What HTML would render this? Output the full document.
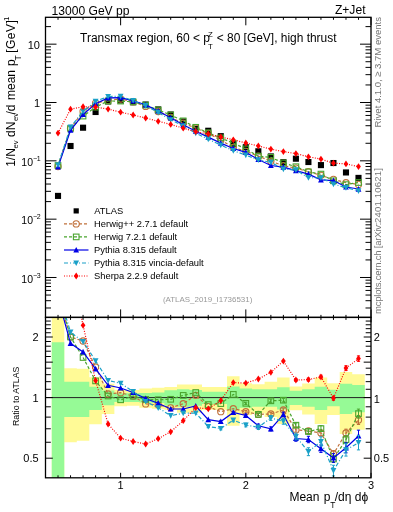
<!DOCTYPE html><html><head><meta charset="utf-8"><style>html,body{margin:0;padding:0;background:#fff;width:393px;height:512px;overflow:hidden}svg{display:block;will-change:transform}text{font-family:"Liberation Sans",sans-serif;fill:#000}</style></head><body>
<svg width="393" height="512" viewBox="0 0 393 512">
<defs>
<clipPath id="c1"><rect x="45.5" y="17.3" width="325.5" height="300.09999999999997"/></clipPath>
<clipPath id="c2"><rect x="45.5" y="317.4" width="325.5" height="160.40000000000003"/></clipPath>
</defs>
<g clip-path="url(#c2)">
<polygon points="51.76,314.07 64.28,314.07 64.28,368.18 76.8,368.18 76.8,368.81 89.32,368.81 89.32,377.19 101.84,377.19 101.84,383.87 114.36,383.87 114.36,389.67 126.88,389.67 126.88,390.07 139.4,390.07 139.4,388.48 151.92,388.48 151.92,387.69 164.44,387.69 164.44,386.92 176.96,386.92 176.96,384.62 189.48,384.62 189.48,384.62 202,384.62 202,386.92 214.52,386.92 214.52,386.92 227.04,386.92 227.04,376.29 239.56,376.29 239.56,383.13 252.08,383.13 252.08,384.25 264.6,384.25 264.6,381.66 277.12,381.66 277.12,377.4 289.64,377.4 289.64,386.53 302.16,386.53 302.16,383.5 314.68,383.5 314.68,377.4 327.2,377.4 327.2,383.13 339.72,383.13 339.72,372.01 352.24,372.01 352.24,374.19 364.76,374.19 364.76,429.66 352.24,429.66 352.24,433.93 339.72,433.93 339.72,414.95 327.2,414.95 327.2,423.92 314.68,423.92 314.68,414.42 302.16,414.42 302.16,410.28 289.64,410.28 289.64,423.92 277.12,423.92 277.12,417.11 264.6,417.11 264.6,413.36 252.08,413.36 252.08,414.95 239.56,414.95 239.56,425.83 227.04,425.83 227.04,409.77 214.52,409.77 214.52,409.77 202,409.77 202,412.84 189.48,412.84 189.48,412.84 176.96,412.84 176.96,409.77 164.44,409.77 164.44,408.78 151.92,408.78 151.92,407.79 139.4,407.79 139.4,405.84 126.88,405.84 126.88,406.33 114.36,406.33 114.36,413.89 101.84,413.89 101.84,424.28 89.32,424.28 89.32,440.81 76.8,440.81 76.8,442.26 64.28,442.26 64.28,800.2 51.76,800.2" fill="#fffa96"/>
<polygon points="51.76,342.23 64.28,342.23 64.28,381.81 76.8,381.81 76.8,381.81 89.32,381.81 89.32,386.84 101.84,386.84 101.84,390.55 114.36,390.55 114.36,393.33 126.88,393.33 126.88,393.33 139.4,393.33 139.4,392.92 151.92,392.92 151.92,392.51 164.44,392.51 164.44,390.31 176.96,390.31 176.96,389.27 189.48,389.27 189.48,390.07 202,390.07 202,391.69 214.52,391.69 214.52,391.69 227.04,391.69 227.04,386.53 239.56,386.53 239.56,388.48 252.08,388.48 252.08,389.27 264.6,389.27 264.6,389.27 277.12,389.27 277.12,387.15 289.64,387.15 289.64,390.87 302.16,390.87 302.16,389.27 314.68,389.27 314.68,386.68 327.2,386.68 327.2,389.75 339.72,389.75 339.72,383.87 352.24,383.87 352.24,385 364.76,385 364.76,412.32 352.24,412.32 352.24,413.89 339.72,413.89 339.72,406.23 327.2,406.23 327.2,410.08 314.68,410.08 314.68,406.81 302.16,406.81 302.16,404.89 289.64,404.89 289.64,409.47 277.12,409.47 277.12,406.81 264.6,406.81 264.6,406.81 252.08,406.81 252.08,407.79 239.56,407.79 239.56,410.28 227.04,410.28 227.04,403.94 214.52,403.94 214.52,403.94 202,403.94 202,405.84 189.48,405.84 189.48,406.81 176.96,406.81 176.96,405.56 164.44,405.56 164.44,403.01 151.92,403.01 151.92,402.55 139.4,402.55 139.4,402.08 126.88,402.08 126.88,402.08 114.36,402.08 114.36,405.27 101.84,405.27 101.84,409.88 89.32,409.88 89.32,416.89 76.8,416.89 76.8,416.89 64.28,416.89 64.28,585.92 51.76,585.92" fill="#96fa96"/>
<line x1="45.5" y1="397.6" x2="371.0" y2="397.6" stroke="#222" stroke-width="1"/>
</g>
<g clip-path="url(#c2)">
<polyline points="58.02,296.14 70.54,337 83.06,341 95.58,367 108.1,394 120.62,392.7 133.14,396.1 145.66,403.9 158.18,404.8 170.7,407.8 183.22,403.7 195.74,395.3 208.26,406.6 220.78,411.7 233.3,408.7 245.82,411.7 258.34,414.4 270.86,414 283.38,410 295.9,429.9 308.42,431 320.94,433 333.46,454 345.98,433 358.5,420" fill="none" stroke="#c0703a" stroke-width="1.2" stroke-dasharray="3,2"/>
<path d="M245.82 410.54V412.86M244.22 410.54H247.42M244.22 412.86H247.42M258.34 413.05V415.75M256.74 413.05H259.94M256.74 415.75H259.94M270.86 412.43V415.57M269.26 412.43H272.46M269.26 415.57H272.46M283.38 408.17V411.83M281.78 408.17H284.98M281.78 411.83H284.98M295.9 427.78V432.02M294.3 427.78H297.5M294.3 432.02H297.5M308.42 428.53V433.47M306.82 428.53H310.02M306.82 433.47H310.02M320.94 430.13V435.87M319.34 430.13H322.54M319.34 435.87H322.54M333.46 450.67V457.33M331.86 450.67H335.06M331.86 457.33H335.06M345.98 429.13V436.87M344.38 429.13H347.58M344.38 436.87H347.58M358.5 415.5V424.5M356.9 415.5H360.1M356.9 424.5H360.1" stroke="#c0703a" stroke-width="1" fill="none"/>
<circle cx="58.02" cy="296.14" r="3.1" fill="none" stroke="#c0703a" stroke-width="1.1"/>
<circle cx="70.54" cy="337" r="3.1" fill="none" stroke="#c0703a" stroke-width="1.1"/>
<circle cx="83.06" cy="341" r="3.1" fill="none" stroke="#c0703a" stroke-width="1.1"/>
<circle cx="95.58" cy="367" r="3.1" fill="none" stroke="#c0703a" stroke-width="1.1"/>
<circle cx="108.1" cy="394" r="3.1" fill="none" stroke="#c0703a" stroke-width="1.1"/>
<circle cx="120.62" cy="392.7" r="3.1" fill="none" stroke="#c0703a" stroke-width="1.1"/>
<circle cx="133.14" cy="396.1" r="3.1" fill="none" stroke="#c0703a" stroke-width="1.1"/>
<circle cx="145.66" cy="403.9" r="3.1" fill="none" stroke="#c0703a" stroke-width="1.1"/>
<circle cx="158.18" cy="404.8" r="3.1" fill="none" stroke="#c0703a" stroke-width="1.1"/>
<circle cx="170.7" cy="407.8" r="3.1" fill="none" stroke="#c0703a" stroke-width="1.1"/>
<circle cx="183.22" cy="403.7" r="3.1" fill="none" stroke="#c0703a" stroke-width="1.1"/>
<circle cx="195.74" cy="395.3" r="3.1" fill="none" stroke="#c0703a" stroke-width="1.1"/>
<circle cx="208.26" cy="406.6" r="3.1" fill="none" stroke="#c0703a" stroke-width="1.1"/>
<circle cx="220.78" cy="411.7" r="3.1" fill="none" stroke="#c0703a" stroke-width="1.1"/>
<circle cx="233.3" cy="408.7" r="3.1" fill="none" stroke="#c0703a" stroke-width="1.1"/>
<circle cx="245.82" cy="411.7" r="3.1" fill="none" stroke="#c0703a" stroke-width="1.1"/>
<circle cx="258.34" cy="414.4" r="3.1" fill="none" stroke="#c0703a" stroke-width="1.1"/>
<circle cx="270.86" cy="414" r="3.1" fill="none" stroke="#c0703a" stroke-width="1.1"/>
<circle cx="283.38" cy="410" r="3.1" fill="none" stroke="#c0703a" stroke-width="1.1"/>
<circle cx="295.9" cy="429.9" r="3.1" fill="none" stroke="#c0703a" stroke-width="1.1"/>
<circle cx="308.42" cy="431" r="3.1" fill="none" stroke="#c0703a" stroke-width="1.1"/>
<circle cx="320.94" cy="433" r="3.1" fill="none" stroke="#c0703a" stroke-width="1.1"/>
<circle cx="333.46" cy="454" r="3.1" fill="none" stroke="#c0703a" stroke-width="1.1"/>
<circle cx="345.98" cy="433" r="3.1" fill="none" stroke="#c0703a" stroke-width="1.1"/>
<circle cx="358.5" cy="420" r="3.1" fill="none" stroke="#c0703a" stroke-width="1.1"/>
</g>
<g clip-path="url(#c2)">
<polyline points="58.02,292.69 70.54,337 83.06,357.5 95.58,380.9 108.1,396 120.62,399.8 133.14,396.2 145.66,399.4 158.18,399.7 170.7,399.3 183.22,395.4 195.74,392.5 208.26,404.6 220.78,403.6 233.3,394.4 245.82,403.3 258.34,414.4 270.86,400.8 283.38,400.2 295.9,425.2 308.42,431.5 320.94,428.6 333.46,459 345.98,439.6 358.5,413.6" fill="none" stroke="#4aa52e" stroke-width="1.2" stroke-dasharray="3,2"/>
<path d="M245.82 402.14V404.46M244.22 402.14H247.42M244.22 404.46H247.42M258.34 413.05V415.75M256.74 413.05H259.94M256.74 415.75H259.94M270.86 399.23V402.37M269.26 399.23H272.46M269.26 402.37H272.46M283.38 398.37V402.03M281.78 398.37H284.98M281.78 402.03H284.98M295.9 423.08V427.32M294.3 423.08H297.5M294.3 427.32H297.5M308.42 429.03V433.97M306.82 429.03H310.02M306.82 433.97H310.02M320.94 425.73V431.47M319.34 425.73H322.54M319.34 431.47H322.54M333.46 455.67V462.33M331.86 455.67H335.06M331.86 462.33H335.06M345.98 435.73V443.47M344.38 435.73H347.58M344.38 443.47H347.58M358.5 409.1V418.1M356.9 409.1H360.1M356.9 418.1H360.1" stroke="#4aa52e" stroke-width="1" fill="none"/>
<rect x="55.22" y="289.89" width="5.6" height="5.6" fill="none" stroke="#4aa52e" stroke-width="1.1"/>
<rect x="67.74" y="334.2" width="5.6" height="5.6" fill="none" stroke="#4aa52e" stroke-width="1.1"/>
<rect x="80.26" y="354.7" width="5.6" height="5.6" fill="none" stroke="#4aa52e" stroke-width="1.1"/>
<rect x="92.78" y="378.1" width="5.6" height="5.6" fill="none" stroke="#4aa52e" stroke-width="1.1"/>
<rect x="105.3" y="393.2" width="5.6" height="5.6" fill="none" stroke="#4aa52e" stroke-width="1.1"/>
<rect x="117.82" y="397" width="5.6" height="5.6" fill="none" stroke="#4aa52e" stroke-width="1.1"/>
<rect x="130.34" y="393.4" width="5.6" height="5.6" fill="none" stroke="#4aa52e" stroke-width="1.1"/>
<rect x="142.86" y="396.6" width="5.6" height="5.6" fill="none" stroke="#4aa52e" stroke-width="1.1"/>
<rect x="155.38" y="396.9" width="5.6" height="5.6" fill="none" stroke="#4aa52e" stroke-width="1.1"/>
<rect x="167.9" y="396.5" width="5.6" height="5.6" fill="none" stroke="#4aa52e" stroke-width="1.1"/>
<rect x="180.42" y="392.6" width="5.6" height="5.6" fill="none" stroke="#4aa52e" stroke-width="1.1"/>
<rect x="192.94" y="389.7" width="5.6" height="5.6" fill="none" stroke="#4aa52e" stroke-width="1.1"/>
<rect x="205.46" y="401.8" width="5.6" height="5.6" fill="none" stroke="#4aa52e" stroke-width="1.1"/>
<rect x="217.98" y="400.8" width="5.6" height="5.6" fill="none" stroke="#4aa52e" stroke-width="1.1"/>
<rect x="230.5" y="391.6" width="5.6" height="5.6" fill="none" stroke="#4aa52e" stroke-width="1.1"/>
<rect x="243.02" y="400.5" width="5.6" height="5.6" fill="none" stroke="#4aa52e" stroke-width="1.1"/>
<rect x="255.54" y="411.6" width="5.6" height="5.6" fill="none" stroke="#4aa52e" stroke-width="1.1"/>
<rect x="268.06" y="398" width="5.6" height="5.6" fill="none" stroke="#4aa52e" stroke-width="1.1"/>
<rect x="280.58" y="397.4" width="5.6" height="5.6" fill="none" stroke="#4aa52e" stroke-width="1.1"/>
<rect x="293.1" y="422.4" width="5.6" height="5.6" fill="none" stroke="#4aa52e" stroke-width="1.1"/>
<rect x="305.62" y="428.7" width="5.6" height="5.6" fill="none" stroke="#4aa52e" stroke-width="1.1"/>
<rect x="318.14" y="425.8" width="5.6" height="5.6" fill="none" stroke="#4aa52e" stroke-width="1.1"/>
<rect x="330.66" y="456.2" width="5.6" height="5.6" fill="none" stroke="#4aa52e" stroke-width="1.1"/>
<rect x="343.18" y="436.8" width="5.6" height="5.6" fill="none" stroke="#4aa52e" stroke-width="1.1"/>
<rect x="355.7" y="410.8" width="5.6" height="5.6" fill="none" stroke="#4aa52e" stroke-width="1.1"/>
</g>
<g clip-path="url(#c2)">
<polyline points="58.02,297.86 70.54,343.3 83.06,351.9 95.58,368.9 108.1,385.3 120.62,388 133.14,392.5 145.66,398.6 158.18,403.2 170.7,409 183.22,409 195.74,406 208.26,419.6 220.78,421.5 233.3,412.5 245.82,415.5 258.34,425.8 270.86,428.9 283.38,414.5 295.9,438.5 308.42,439.5 320.94,448.7 333.46,458 345.98,447.8 358.5,436" fill="none" stroke="#0000e6" stroke-width="1.2"/>
<path d="M220.78 420.38V422.62M219.18 420.38H222.38M219.18 422.62H222.38M233.3 411.2V413.8M231.7 411.2H234.9M231.7 413.8H234.9M245.82 413.99V417.01M244.22 413.99H247.42M244.22 417.01H247.42M258.34 424.04V427.56M256.74 424.04H259.94M256.74 427.56H259.94M270.86 426.86V430.94M269.26 426.86H272.46M269.26 430.94H272.46M283.38 412.13V416.87M281.78 412.13H284.98M281.78 416.87H284.98M295.9 435.74V441.26M294.3 435.74H297.5M294.3 441.26H297.5M308.42 436.29V442.71M306.82 436.29H310.02M306.82 442.71H310.02M320.94 444.97V452.43M319.34 444.97H322.54M319.34 452.43H322.54M333.46 453.67V462.33M331.86 453.67H335.06M331.86 462.33H335.06M345.98 442.77V452.83M344.38 442.77H347.58M344.38 452.83H347.58M358.5 430.15V441.85M356.9 430.15H360.1M356.9 441.85H360.1" stroke="#0000e6" stroke-width="1" fill="none"/>
<polygon points="58.02,294.76 60.92,300.46 55.12,300.46" fill="#0000e6"/>
<polygon points="70.54,340.2 73.44,345.9 67.64,345.9" fill="#0000e6"/>
<polygon points="83.06,348.8 85.96,354.5 80.16,354.5" fill="#0000e6"/>
<polygon points="95.58,365.8 98.48,371.5 92.68,371.5" fill="#0000e6"/>
<polygon points="108.1,382.2 111,387.9 105.2,387.9" fill="#0000e6"/>
<polygon points="120.62,384.9 123.52,390.6 117.72,390.6" fill="#0000e6"/>
<polygon points="133.14,389.4 136.04,395.1 130.24,395.1" fill="#0000e6"/>
<polygon points="145.66,395.5 148.56,401.2 142.76,401.2" fill="#0000e6"/>
<polygon points="158.18,400.1 161.08,405.8 155.28,405.8" fill="#0000e6"/>
<polygon points="170.7,405.9 173.6,411.6 167.8,411.6" fill="#0000e6"/>
<polygon points="183.22,405.9 186.12,411.6 180.32,411.6" fill="#0000e6"/>
<polygon points="195.74,402.9 198.64,408.6 192.84,408.6" fill="#0000e6"/>
<polygon points="208.26,416.5 211.16,422.2 205.36,422.2" fill="#0000e6"/>
<polygon points="220.78,418.4 223.68,424.1 217.88,424.1" fill="#0000e6"/>
<polygon points="233.3,409.4 236.2,415.1 230.4,415.1" fill="#0000e6"/>
<polygon points="245.82,412.4 248.72,418.1 242.92,418.1" fill="#0000e6"/>
<polygon points="258.34,422.7 261.24,428.4 255.44,428.4" fill="#0000e6"/>
<polygon points="270.86,425.8 273.76,431.5 267.96,431.5" fill="#0000e6"/>
<polygon points="283.38,411.4 286.28,417.1 280.48,417.1" fill="#0000e6"/>
<polygon points="295.9,435.4 298.8,441.1 293,441.1" fill="#0000e6"/>
<polygon points="308.42,436.4 311.32,442.1 305.52,442.1" fill="#0000e6"/>
<polygon points="320.94,445.6 323.84,451.3 318.04,451.3" fill="#0000e6"/>
<polygon points="333.46,454.9 336.36,460.6 330.56,460.6" fill="#0000e6"/>
<polygon points="345.98,444.7 348.88,450.4 343.08,450.4" fill="#0000e6"/>
<polygon points="358.5,432.9 361.4,438.6 355.6,438.6" fill="#0000e6"/>
</g>
<g clip-path="url(#c2)">
<polyline points="58.02,290.96 70.54,332.2 83.06,341.6 95.58,360.8 108.1,380.5 120.62,383.3 133.14,391.5 145.66,401.5 158.18,407.8 170.7,415.7 183.22,413.2 195.74,413.1 208.26,426.5 220.78,428.5 233.3,420.2 245.82,425 258.34,427.3 270.86,418 283.38,421.3 295.9,436.5 308.42,451.7 320.94,441.5 333.46,470.6 345.98,449.9 358.5,442.7" fill="none" stroke="#1aa0c8" stroke-width="1.2" stroke-dasharray="4,2,1,2"/>
<path d="M208.26 425.32V427.68M206.66 425.32H209.86M206.66 427.68H209.86M220.78 427.12V429.88M219.18 427.12H222.38M219.18 429.88H222.38M233.3 418.6V421.8M231.7 418.6H234.9M231.7 421.8H234.9M245.82 423.14V426.86M244.22 423.14H247.42M244.22 426.86H247.42M258.34 425.14V429.46M256.74 425.14H259.94M256.74 429.46H259.94M270.86 415.49V420.51M269.26 415.49H272.46M269.26 420.51H272.46M283.38 418.38V424.22M281.78 418.38H284.98M281.78 424.22H284.98M295.9 433.11V439.89M294.3 433.11H297.5M294.3 439.89H297.5M308.42 447.75V455.65M306.82 447.75H310.02M306.82 455.65H310.02M320.94 436.91V446.09M319.34 436.91H322.54M319.34 446.09H322.54M333.46 465.27V475.93M331.86 465.27H335.06M331.86 475.93H335.06M345.98 443.71V456.09M344.38 443.71H347.58M344.38 456.09H347.58M358.5 435.5V449.9M356.9 435.5H360.1M356.9 449.9H360.1" stroke="#1aa0c8" stroke-width="1" fill="none"/>
<polygon points="58.02,294.06 60.92,288.36 55.12,288.36" fill="#1aa0c8"/>
<polygon points="70.54,335.3 73.44,329.6 67.64,329.6" fill="#1aa0c8"/>
<polygon points="83.06,344.7 85.96,339 80.16,339" fill="#1aa0c8"/>
<polygon points="95.58,363.9 98.48,358.2 92.68,358.2" fill="#1aa0c8"/>
<polygon points="108.1,383.6 111,377.9 105.2,377.9" fill="#1aa0c8"/>
<polygon points="120.62,386.4 123.52,380.7 117.72,380.7" fill="#1aa0c8"/>
<polygon points="133.14,394.6 136.04,388.9 130.24,388.9" fill="#1aa0c8"/>
<polygon points="145.66,404.6 148.56,398.9 142.76,398.9" fill="#1aa0c8"/>
<polygon points="158.18,410.9 161.08,405.2 155.28,405.2" fill="#1aa0c8"/>
<polygon points="170.7,418.8 173.6,413.1 167.8,413.1" fill="#1aa0c8"/>
<polygon points="183.22,416.3 186.12,410.6 180.32,410.6" fill="#1aa0c8"/>
<polygon points="195.74,416.2 198.64,410.5 192.84,410.5" fill="#1aa0c8"/>
<polygon points="208.26,429.6 211.16,423.9 205.36,423.9" fill="#1aa0c8"/>
<polygon points="220.78,431.6 223.68,425.9 217.88,425.9" fill="#1aa0c8"/>
<polygon points="233.3,423.3 236.2,417.6 230.4,417.6" fill="#1aa0c8"/>
<polygon points="245.82,428.1 248.72,422.4 242.92,422.4" fill="#1aa0c8"/>
<polygon points="258.34,430.4 261.24,424.7 255.44,424.7" fill="#1aa0c8"/>
<polygon points="270.86,421.1 273.76,415.4 267.96,415.4" fill="#1aa0c8"/>
<polygon points="283.38,424.4 286.28,418.7 280.48,418.7" fill="#1aa0c8"/>
<polygon points="295.9,439.6 298.8,433.9 293,433.9" fill="#1aa0c8"/>
<polygon points="308.42,454.8 311.32,449.1 305.52,449.1" fill="#1aa0c8"/>
<polygon points="320.94,444.6 323.84,438.9 318.04,438.9" fill="#1aa0c8"/>
<polygon points="333.46,473.7 336.36,468 330.56,468" fill="#1aa0c8"/>
<polygon points="345.98,453 348.88,447.3 343.08,447.3" fill="#1aa0c8"/>
<polygon points="358.5,445.8 361.4,440.1 355.6,440.1" fill="#1aa0c8"/>
</g>
<g clip-path="url(#c2)">
<polyline points="58.02,180.87 70.54,270.6 83.06,325.3 95.58,380.5 108.1,424 120.62,438.2 133.14,441.5 145.66,444 158.18,438.7 170.7,431.8 183.22,420.7 195.74,407.7 208.26,408.8 220.78,400.5 233.3,382.6 245.82,383.1 258.34,379 270.86,372.3 283.38,361.1 295.9,380 308.42,379.6 320.94,376.9 333.46,398.2 345.98,368.1 358.5,358.6" fill="none" stroke="#ff0000" stroke-width="1.2" stroke-dasharray="1,1.5"/>
<path d="M295.9 378.73V381.27M294.3 378.73H297.5M294.3 381.27H297.5M308.42 378.12V381.08M306.82 378.12H310.02M306.82 381.08H310.02M320.94 375.18V378.62M319.34 375.18H322.54M319.34 378.62H322.54M333.46 396.2V400.2M331.86 396.2H335.06M331.86 400.2H335.06M345.98 365.78V370.42M344.38 365.78H347.58M344.38 370.42H347.58M358.5 355.9V361.3M356.9 355.9H360.1M356.9 361.3H360.1" stroke="#ff0000" stroke-width="1" fill="none"/>
<polygon points="58.02,177.47 60.37,180.87 58.02,184.27 55.67,180.87" fill="#ff0000"/>
<polygon points="70.54,267.2 72.89,270.6 70.54,274 68.19,270.6" fill="#ff0000"/>
<polygon points="83.06,321.9 85.41,325.3 83.06,328.7 80.71,325.3" fill="#ff0000"/>
<polygon points="95.58,377.1 97.93,380.5 95.58,383.9 93.23,380.5" fill="#ff0000"/>
<polygon points="108.1,420.6 110.45,424 108.1,427.4 105.75,424" fill="#ff0000"/>
<polygon points="120.62,434.8 122.97,438.2 120.62,441.6 118.27,438.2" fill="#ff0000"/>
<polygon points="133.14,438.1 135.49,441.5 133.14,444.9 130.79,441.5" fill="#ff0000"/>
<polygon points="145.66,440.6 148.01,444 145.66,447.4 143.31,444" fill="#ff0000"/>
<polygon points="158.18,435.3 160.53,438.7 158.18,442.1 155.83,438.7" fill="#ff0000"/>
<polygon points="170.7,428.4 173.05,431.8 170.7,435.2 168.35,431.8" fill="#ff0000"/>
<polygon points="183.22,417.3 185.57,420.7 183.22,424.1 180.87,420.7" fill="#ff0000"/>
<polygon points="195.74,404.3 198.09,407.7 195.74,411.1 193.39,407.7" fill="#ff0000"/>
<polygon points="208.26,405.4 210.61,408.8 208.26,412.2 205.91,408.8" fill="#ff0000"/>
<polygon points="220.78,397.1 223.13,400.5 220.78,403.9 218.43,400.5" fill="#ff0000"/>
<polygon points="233.3,379.2 235.65,382.6 233.3,386 230.95,382.6" fill="#ff0000"/>
<polygon points="245.82,379.7 248.17,383.1 245.82,386.5 243.47,383.1" fill="#ff0000"/>
<polygon points="258.34,375.6 260.69,379 258.34,382.4 255.99,379" fill="#ff0000"/>
<polygon points="270.86,368.9 273.21,372.3 270.86,375.7 268.51,372.3" fill="#ff0000"/>
<polygon points="283.38,357.7 285.73,361.1 283.38,364.5 281.03,361.1" fill="#ff0000"/>
<polygon points="295.9,376.6 298.25,380 295.9,383.4 293.55,380" fill="#ff0000"/>
<polygon points="308.42,376.2 310.77,379.6 308.42,383 306.07,379.6" fill="#ff0000"/>
<polygon points="320.94,373.5 323.29,376.9 320.94,380.3 318.59,376.9" fill="#ff0000"/>
<polygon points="333.46,394.8 335.81,398.2 333.46,401.6 331.11,398.2" fill="#ff0000"/>
<polygon points="345.98,364.7 348.33,368.1 345.98,371.5 343.63,368.1" fill="#ff0000"/>
<polygon points="358.5,355.2 360.85,358.6 358.5,362 356.15,358.6" fill="#ff0000"/>
</g>
<g clip-path="url(#c1)">
<rect x="54.97" y="192.85" width="6.1" height="6.1" fill="#000"/>
<rect x="67.49" y="142.95" width="6.1" height="6.1" fill="#000"/>
<rect x="80.01" y="124.65" width="6.1" height="6.1" fill="#000"/>
<rect x="92.53" y="108.95" width="6.1" height="6.1" fill="#000"/>
<rect x="105.05" y="98.4" width="6.1" height="6.1" fill="#000"/>
<rect x="117.57" y="97.39" width="6.1" height="6.1" fill="#000"/>
<rect x="130.09" y="99.23" width="6.1" height="6.1" fill="#000"/>
<rect x="142.61" y="101.5" width="6.1" height="6.1" fill="#000"/>
<rect x="155.13" y="106.34" width="6.1" height="6.1" fill="#000"/>
<rect x="167.65" y="111.44" width="6.1" height="6.1" fill="#000"/>
<rect x="180.17" y="118.46" width="6.1" height="6.1" fill="#000"/>
<rect x="192.69" y="125.72" width="6.1" height="6.1" fill="#000"/>
<rect x="205.21" y="127.7" width="6.1" height="6.1" fill="#000"/>
<rect x="217.73" y="133.11" width="6.1" height="6.1" fill="#000"/>
<rect x="230.25" y="141.1" width="6.1" height="6.1" fill="#000"/>
<rect x="242.77" y="144.15" width="6.1" height="6.1" fill="#000"/>
<rect x="255.29" y="148.24" width="6.1" height="6.1" fill="#000"/>
<rect x="267.81" y="153.38" width="6.1" height="6.1" fill="#000"/>
<rect x="280.33" y="159.13" width="6.1" height="6.1" fill="#000"/>
<rect x="292.85" y="155.65" width="6.1" height="6.1" fill="#000"/>
<rect x="305.37" y="158.97" width="6.1" height="6.1" fill="#000"/>
<rect x="317.89" y="162.05" width="6.1" height="6.1" fill="#000"/>
<rect x="330.41" y="159.98" width="6.1" height="6.1" fill="#000"/>
<rect x="342.93" y="169.4" width="6.1" height="6.1" fill="#000"/>
<rect x="355.45" y="174.85" width="6.1" height="6.1" fill="#000"/>
</g>
<g clip-path="url(#c1)">
<polyline points="58.02,166.5 70.54,128.44 83.06,111.3 95.58,103.13 108.1,100.41 120.62,99.02 133.14,101.84 145.66,106.38 158.18,111.48 170.7,117.45 183.22,123.27 195.74,128.11 208.26,133.36 220.78,140.25 233.3,147.36 245.82,151.29 258.34,156.16 270.86,161.18 283.38,165.77 295.9,168.06 308.42,171.69 320.94,175.36 333.46,179.37 345.98,182.71 358.5,184.39" fill="none" stroke="#c0703a" stroke-width="1.2" stroke-dasharray="3,2"/>
<circle cx="58.02" cy="166.5" r="3.1" fill="none" stroke="#c0703a" stroke-width="1.1"/>
<circle cx="70.54" cy="128.44" r="3.1" fill="none" stroke="#c0703a" stroke-width="1.1"/>
<circle cx="83.06" cy="111.3" r="3.1" fill="none" stroke="#c0703a" stroke-width="1.1"/>
<circle cx="95.58" cy="103.13" r="3.1" fill="none" stroke="#c0703a" stroke-width="1.1"/>
<circle cx="108.1" cy="100.41" r="3.1" fill="none" stroke="#c0703a" stroke-width="1.1"/>
<circle cx="120.62" cy="99.02" r="3.1" fill="none" stroke="#c0703a" stroke-width="1.1"/>
<circle cx="133.14" cy="101.84" r="3.1" fill="none" stroke="#c0703a" stroke-width="1.1"/>
<circle cx="145.66" cy="106.38" r="3.1" fill="none" stroke="#c0703a" stroke-width="1.1"/>
<circle cx="158.18" cy="111.48" r="3.1" fill="none" stroke="#c0703a" stroke-width="1.1"/>
<circle cx="170.7" cy="117.45" r="3.1" fill="none" stroke="#c0703a" stroke-width="1.1"/>
<circle cx="183.22" cy="123.27" r="3.1" fill="none" stroke="#c0703a" stroke-width="1.1"/>
<circle cx="195.74" cy="128.11" r="3.1" fill="none" stroke="#c0703a" stroke-width="1.1"/>
<circle cx="208.26" cy="133.36" r="3.1" fill="none" stroke="#c0703a" stroke-width="1.1"/>
<circle cx="220.78" cy="140.25" r="3.1" fill="none" stroke="#c0703a" stroke-width="1.1"/>
<circle cx="233.3" cy="147.36" r="3.1" fill="none" stroke="#c0703a" stroke-width="1.1"/>
<circle cx="245.82" cy="151.29" r="3.1" fill="none" stroke="#c0703a" stroke-width="1.1"/>
<circle cx="258.34" cy="156.16" r="3.1" fill="none" stroke="#c0703a" stroke-width="1.1"/>
<circle cx="270.86" cy="161.18" r="3.1" fill="none" stroke="#c0703a" stroke-width="1.1"/>
<circle cx="283.38" cy="165.77" r="3.1" fill="none" stroke="#c0703a" stroke-width="1.1"/>
<circle cx="295.9" cy="168.06" r="3.1" fill="none" stroke="#c0703a" stroke-width="1.1"/>
<circle cx="308.42" cy="171.69" r="3.1" fill="none" stroke="#c0703a" stroke-width="1.1"/>
<circle cx="320.94" cy="175.36" r="3.1" fill="none" stroke="#c0703a" stroke-width="1.1"/>
<circle cx="333.46" cy="179.37" r="3.1" fill="none" stroke="#c0703a" stroke-width="1.1"/>
<circle cx="345.98" cy="182.71" r="3.1" fill="none" stroke="#c0703a" stroke-width="1.1"/>
<circle cx="358.5" cy="184.39" r="3.1" fill="none" stroke="#c0703a" stroke-width="1.1"/>
</g>
<g clip-path="url(#c1)">
<polyline points="58.02,165.5 70.54,128.44 83.06,116.08 95.58,107.16 108.1,100.99 120.62,101.07 133.14,101.87 145.66,105.08 158.18,110 170.7,114.98 183.22,120.87 195.74,127.3 208.26,132.78 220.78,137.9 233.3,143.22 245.82,148.85 258.34,156.16 270.86,157.36 283.38,162.93 295.9,166.7 308.42,171.84 320.94,174.08 333.46,180.82 345.98,184.62 358.5,182.54" fill="none" stroke="#4aa52e" stroke-width="1.2" stroke-dasharray="3,2"/>
<rect x="55.22" y="162.7" width="5.6" height="5.6" fill="none" stroke="#4aa52e" stroke-width="1.1"/>
<rect x="67.74" y="125.64" width="5.6" height="5.6" fill="none" stroke="#4aa52e" stroke-width="1.1"/>
<rect x="80.26" y="113.28" width="5.6" height="5.6" fill="none" stroke="#4aa52e" stroke-width="1.1"/>
<rect x="92.78" y="104.36" width="5.6" height="5.6" fill="none" stroke="#4aa52e" stroke-width="1.1"/>
<rect x="105.3" y="98.19" width="5.6" height="5.6" fill="none" stroke="#4aa52e" stroke-width="1.1"/>
<rect x="117.82" y="98.27" width="5.6" height="5.6" fill="none" stroke="#4aa52e" stroke-width="1.1"/>
<rect x="130.34" y="99.07" width="5.6" height="5.6" fill="none" stroke="#4aa52e" stroke-width="1.1"/>
<rect x="142.86" y="102.28" width="5.6" height="5.6" fill="none" stroke="#4aa52e" stroke-width="1.1"/>
<rect x="155.38" y="107.2" width="5.6" height="5.6" fill="none" stroke="#4aa52e" stroke-width="1.1"/>
<rect x="167.9" y="112.18" width="5.6" height="5.6" fill="none" stroke="#4aa52e" stroke-width="1.1"/>
<rect x="180.42" y="118.07" width="5.6" height="5.6" fill="none" stroke="#4aa52e" stroke-width="1.1"/>
<rect x="192.94" y="124.5" width="5.6" height="5.6" fill="none" stroke="#4aa52e" stroke-width="1.1"/>
<rect x="205.46" y="129.98" width="5.6" height="5.6" fill="none" stroke="#4aa52e" stroke-width="1.1"/>
<rect x="217.98" y="135.1" width="5.6" height="5.6" fill="none" stroke="#4aa52e" stroke-width="1.1"/>
<rect x="230.5" y="140.42" width="5.6" height="5.6" fill="none" stroke="#4aa52e" stroke-width="1.1"/>
<rect x="243.02" y="146.05" width="5.6" height="5.6" fill="none" stroke="#4aa52e" stroke-width="1.1"/>
<rect x="255.54" y="153.36" width="5.6" height="5.6" fill="none" stroke="#4aa52e" stroke-width="1.1"/>
<rect x="268.06" y="154.56" width="5.6" height="5.6" fill="none" stroke="#4aa52e" stroke-width="1.1"/>
<rect x="280.58" y="160.13" width="5.6" height="5.6" fill="none" stroke="#4aa52e" stroke-width="1.1"/>
<rect x="293.1" y="163.9" width="5.6" height="5.6" fill="none" stroke="#4aa52e" stroke-width="1.1"/>
<rect x="305.62" y="169.04" width="5.6" height="5.6" fill="none" stroke="#4aa52e" stroke-width="1.1"/>
<rect x="318.14" y="171.28" width="5.6" height="5.6" fill="none" stroke="#4aa52e" stroke-width="1.1"/>
<rect x="330.66" y="178.02" width="5.6" height="5.6" fill="none" stroke="#4aa52e" stroke-width="1.1"/>
<rect x="343.18" y="181.82" width="5.6" height="5.6" fill="none" stroke="#4aa52e" stroke-width="1.1"/>
<rect x="355.7" y="179.74" width="5.6" height="5.6" fill="none" stroke="#4aa52e" stroke-width="1.1"/>
</g>
<g clip-path="url(#c1)">
<polyline points="58.02,167 70.54,130.27 83.06,114.46 95.58,103.68 108.1,97.89 120.62,97.65 133.14,100.8 145.66,104.84 158.18,111.01 170.7,117.79 183.22,124.81 195.74,131.21 208.26,137.13 220.78,143.09 233.3,148.46 245.82,152.39 258.34,159.46 270.86,165.5 283.38,167.07 295.9,170.55 308.42,174.16 320.94,179.91 333.46,180.53 345.98,186.99 358.5,189.03" fill="none" stroke="#0000e6" stroke-width="1.2"/>
<polygon points="58.02,163.9 60.92,169.6 55.12,169.6" fill="#0000e6"/>
<polygon points="70.54,127.17 73.44,132.87 67.64,132.87" fill="#0000e6"/>
<polygon points="83.06,111.36 85.96,117.06 80.16,117.06" fill="#0000e6"/>
<polygon points="95.58,100.58 98.48,106.28 92.68,106.28" fill="#0000e6"/>
<polygon points="108.1,94.79 111,100.49 105.2,100.49" fill="#0000e6"/>
<polygon points="120.62,94.55 123.52,100.25 117.72,100.25" fill="#0000e6"/>
<polygon points="133.14,97.7 136.04,103.4 130.24,103.4" fill="#0000e6"/>
<polygon points="145.66,101.74 148.56,107.44 142.76,107.44" fill="#0000e6"/>
<polygon points="158.18,107.91 161.08,113.61 155.28,113.61" fill="#0000e6"/>
<polygon points="170.7,114.69 173.6,120.39 167.8,120.39" fill="#0000e6"/>
<polygon points="183.22,121.71 186.12,127.41 180.32,127.41" fill="#0000e6"/>
<polygon points="195.74,128.11 198.64,133.81 192.84,133.81" fill="#0000e6"/>
<polygon points="208.26,134.03 211.16,139.73 205.36,139.73" fill="#0000e6"/>
<polygon points="220.78,139.99 223.68,145.69 217.88,145.69" fill="#0000e6"/>
<polygon points="233.3,145.36 236.2,151.06 230.4,151.06" fill="#0000e6"/>
<polygon points="245.82,149.29 248.72,154.99 242.92,154.99" fill="#0000e6"/>
<polygon points="258.34,156.36 261.24,162.06 255.44,162.06" fill="#0000e6"/>
<polygon points="270.86,162.4 273.76,168.1 267.96,168.1" fill="#0000e6"/>
<polygon points="283.38,163.97 286.28,169.67 280.48,169.67" fill="#0000e6"/>
<polygon points="295.9,167.45 298.8,173.15 293,173.15" fill="#0000e6"/>
<polygon points="308.42,171.06 311.32,176.76 305.52,176.76" fill="#0000e6"/>
<polygon points="320.94,176.81 323.84,182.51 318.04,182.51" fill="#0000e6"/>
<polygon points="333.46,177.43 336.36,183.13 330.56,183.13" fill="#0000e6"/>
<polygon points="345.98,183.89 348.88,189.59 343.08,189.59" fill="#0000e6"/>
<polygon points="358.5,185.93 361.4,191.63 355.6,191.63" fill="#0000e6"/>
</g>
<g clip-path="url(#c1)">
<polyline points="58.02,165 70.54,127.05 83.06,111.47 95.58,101.34 108.1,96.5 120.62,96.29 133.14,100.51 145.66,105.68 158.18,112.35 170.7,119.73 183.22,126.03 195.74,133.26 208.26,139.13 220.78,145.11 233.3,150.7 245.82,155.14 258.34,159.9 270.86,162.34 283.38,169.04 295.9,169.97 308.42,177.69 320.94,177.82 333.46,184.18 345.98,187.6 358.5,190.97" fill="none" stroke="#1aa0c8" stroke-width="1.2" stroke-dasharray="4,2,1,2"/>
<polygon points="58.02,168.1 60.92,162.4 55.12,162.4" fill="#1aa0c8"/>
<polygon points="70.54,130.15 73.44,124.45 67.64,124.45" fill="#1aa0c8"/>
<polygon points="83.06,114.57 85.96,108.87 80.16,108.87" fill="#1aa0c8"/>
<polygon points="95.58,104.44 98.48,98.74 92.68,98.74" fill="#1aa0c8"/>
<polygon points="108.1,99.6 111,93.9 105.2,93.9" fill="#1aa0c8"/>
<polygon points="120.62,99.39 123.52,93.69 117.72,93.69" fill="#1aa0c8"/>
<polygon points="133.14,103.61 136.04,97.91 130.24,97.91" fill="#1aa0c8"/>
<polygon points="145.66,108.78 148.56,103.08 142.76,103.08" fill="#1aa0c8"/>
<polygon points="158.18,115.45 161.08,109.75 155.28,109.75" fill="#1aa0c8"/>
<polygon points="170.7,122.83 173.6,117.13 167.8,117.13" fill="#1aa0c8"/>
<polygon points="183.22,129.13 186.12,123.43 180.32,123.43" fill="#1aa0c8"/>
<polygon points="195.74,136.36 198.64,130.66 192.84,130.66" fill="#1aa0c8"/>
<polygon points="208.26,142.23 211.16,136.53 205.36,136.53" fill="#1aa0c8"/>
<polygon points="220.78,148.21 223.68,142.51 217.88,142.51" fill="#1aa0c8"/>
<polygon points="233.3,153.8 236.2,148.1 230.4,148.1" fill="#1aa0c8"/>
<polygon points="245.82,158.24 248.72,152.54 242.92,152.54" fill="#1aa0c8"/>
<polygon points="258.34,163 261.24,157.3 255.44,157.3" fill="#1aa0c8"/>
<polygon points="270.86,165.44 273.76,159.74 267.96,159.74" fill="#1aa0c8"/>
<polygon points="283.38,172.14 286.28,166.44 280.48,166.44" fill="#1aa0c8"/>
<polygon points="295.9,173.07 298.8,167.37 293,167.37" fill="#1aa0c8"/>
<polygon points="308.42,180.79 311.32,175.09 305.52,175.09" fill="#1aa0c8"/>
<polygon points="320.94,180.92 323.84,175.22 318.04,175.22" fill="#1aa0c8"/>
<polygon points="333.46,187.28 336.36,181.58 330.56,181.58" fill="#1aa0c8"/>
<polygon points="345.98,190.7 348.88,185 343.08,185" fill="#1aa0c8"/>
<polygon points="358.5,194.07 361.4,188.37 355.6,188.37" fill="#1aa0c8"/>
</g>
<g clip-path="url(#c1)">
<polyline points="58.02,133.1 70.54,109.2 83.06,106.75 95.58,107.04 108.1,109.1 120.62,112.2 133.14,115 145.66,118 158.18,121.3 170.7,124.4 183.22,128.2 195.74,131.7 208.26,134 220.78,137 233.3,139.8 245.82,143 258.34,145.9 270.86,149.1 283.38,151.6 295.9,153.6 308.42,156.8 320.94,159.1 333.46,163.2 345.98,163.9 358.5,166.6" fill="none" stroke="#ff0000" stroke-width="1.2" stroke-dasharray="1,1.5"/>
<polygon points="58.02,129.7 60.37,133.1 58.02,136.5 55.67,133.1" fill="#ff0000"/>
<polygon points="70.54,105.8 72.89,109.2 70.54,112.6 68.19,109.2" fill="#ff0000"/>
<polygon points="83.06,103.35 85.41,106.75 83.06,110.15 80.71,106.75" fill="#ff0000"/>
<polygon points="95.58,103.64 97.93,107.04 95.58,110.44 93.23,107.04" fill="#ff0000"/>
<polygon points="108.1,105.7 110.45,109.1 108.1,112.5 105.75,109.1" fill="#ff0000"/>
<polygon points="120.62,108.8 122.97,112.2 120.62,115.6 118.27,112.2" fill="#ff0000"/>
<polygon points="133.14,111.6 135.49,115 133.14,118.4 130.79,115" fill="#ff0000"/>
<polygon points="145.66,114.6 148.01,118 145.66,121.4 143.31,118" fill="#ff0000"/>
<polygon points="158.18,117.9 160.53,121.3 158.18,124.7 155.83,121.3" fill="#ff0000"/>
<polygon points="170.7,121 173.05,124.4 170.7,127.8 168.35,124.4" fill="#ff0000"/>
<polygon points="183.22,124.8 185.57,128.2 183.22,131.6 180.87,128.2" fill="#ff0000"/>
<polygon points="195.74,128.3 198.09,131.7 195.74,135.1 193.39,131.7" fill="#ff0000"/>
<polygon points="208.26,130.6 210.61,134 208.26,137.4 205.91,134" fill="#ff0000"/>
<polygon points="220.78,133.6 223.13,137 220.78,140.4 218.43,137" fill="#ff0000"/>
<polygon points="233.3,136.4 235.65,139.8 233.3,143.2 230.95,139.8" fill="#ff0000"/>
<polygon points="245.82,139.6 248.17,143 245.82,146.4 243.47,143" fill="#ff0000"/>
<polygon points="258.34,142.5 260.69,145.9 258.34,149.3 255.99,145.9" fill="#ff0000"/>
<polygon points="270.86,145.7 273.21,149.1 270.86,152.5 268.51,149.1" fill="#ff0000"/>
<polygon points="283.38,148.2 285.73,151.6 283.38,155 281.03,151.6" fill="#ff0000"/>
<polygon points="295.9,150.2 298.25,153.6 295.9,157 293.55,153.6" fill="#ff0000"/>
<polygon points="308.42,153.4 310.77,156.8 308.42,160.2 306.07,156.8" fill="#ff0000"/>
<polygon points="320.94,155.7 323.29,159.1 320.94,162.5 318.59,159.1" fill="#ff0000"/>
<polygon points="333.46,159.8 335.81,163.2 333.46,166.6 331.11,163.2" fill="#ff0000"/>
<polygon points="345.98,160.5 348.33,163.9 345.98,167.3 343.63,163.9" fill="#ff0000"/>
<polygon points="358.5,163.2 360.85,166.6 358.5,170 356.15,166.6" fill="#ff0000"/>
</g>
<path d="M45.5 17.3L45.5 19.8M45.5 317.4L45.5 314.9M45.5 317.4L45.5 319.9M45.5 477.8L45.5 475.3M58.02 17.3L58.02 19.8M58.02 317.4L58.02 314.9M58.02 317.4L58.02 319.9M58.02 477.8L58.02 475.3M70.54 17.3L70.54 19.8M70.54 317.4L70.54 314.9M70.54 317.4L70.54 319.9M70.54 477.8L70.54 475.3M83.06 17.3L83.06 19.8M83.06 317.4L83.06 314.9M83.06 317.4L83.06 319.9M83.06 477.8L83.06 475.3M95.58 17.3L95.58 19.8M95.58 317.4L95.58 314.9M95.58 317.4L95.58 319.9M95.58 477.8L95.58 475.3M108.1 17.3L108.1 19.8M108.1 317.4L108.1 314.9M108.1 317.4L108.1 319.9M108.1 477.8L108.1 475.3M120.62 17.3L120.62 25.3M120.62 317.4L120.62 309.4M120.62 317.4L120.62 322.4M120.62 477.8L120.62 472.8M133.14 17.3L133.14 19.8M133.14 317.4L133.14 314.9M133.14 317.4L133.14 319.9M133.14 477.8L133.14 475.3M145.66 17.3L145.66 19.8M145.66 317.4L145.66 314.9M145.66 317.4L145.66 319.9M145.66 477.8L145.66 475.3M158.18 17.3L158.18 19.8M158.18 317.4L158.18 314.9M158.18 317.4L158.18 319.9M158.18 477.8L158.18 475.3M170.7 17.3L170.7 19.8M170.7 317.4L170.7 314.9M170.7 317.4L170.7 319.9M170.7 477.8L170.7 475.3M183.22 17.3L183.22 19.8M183.22 317.4L183.22 314.9M183.22 317.4L183.22 319.9M183.22 477.8L183.22 475.3M195.74 17.3L195.74 19.8M195.74 317.4L195.74 314.9M195.74 317.4L195.74 319.9M195.74 477.8L195.74 475.3M208.26 17.3L208.26 19.8M208.26 317.4L208.26 314.9M208.26 317.4L208.26 319.9M208.26 477.8L208.26 475.3M220.78 17.3L220.78 19.8M220.78 317.4L220.78 314.9M220.78 317.4L220.78 319.9M220.78 477.8L220.78 475.3M233.3 17.3L233.3 19.8M233.3 317.4L233.3 314.9M233.3 317.4L233.3 319.9M233.3 477.8L233.3 475.3M245.82 17.3L245.82 25.3M245.82 317.4L245.82 309.4M245.82 317.4L245.82 322.4M245.82 477.8L245.82 472.8M258.34 17.3L258.34 19.8M258.34 317.4L258.34 314.9M258.34 317.4L258.34 319.9M258.34 477.8L258.34 475.3M270.86 17.3L270.86 19.8M270.86 317.4L270.86 314.9M270.86 317.4L270.86 319.9M270.86 477.8L270.86 475.3M283.38 17.3L283.38 19.8M283.38 317.4L283.38 314.9M283.38 317.4L283.38 319.9M283.38 477.8L283.38 475.3M295.9 17.3L295.9 19.8M295.9 317.4L295.9 314.9M295.9 317.4L295.9 319.9M295.9 477.8L295.9 475.3M308.42 17.3L308.42 19.8M308.42 317.4L308.42 314.9M308.42 317.4L308.42 319.9M308.42 477.8L308.42 475.3M320.94 17.3L320.94 19.8M320.94 317.4L320.94 314.9M320.94 317.4L320.94 319.9M320.94 477.8L320.94 475.3M333.46 17.3L333.46 19.8M333.46 317.4L333.46 314.9M333.46 317.4L333.46 319.9M333.46 477.8L333.46 475.3M345.98 17.3L345.98 19.8M345.98 317.4L345.98 314.9M345.98 317.4L345.98 319.9M345.98 477.8L345.98 475.3M358.5 17.3L358.5 19.8M358.5 317.4L358.5 314.9M358.5 317.4L358.5 319.9M358.5 477.8L358.5 475.3M371.02 17.3L371.02 25.3M371.02 317.4L371.02 309.4M371.02 317.4L371.02 322.4M371.02 477.8L371.02 472.8M45.5 307.99L51 307.99M371 307.99L365.5 307.99M45.5 300.7L51 300.7M371 300.7L365.5 300.7M45.5 295.05L51 295.05M371 295.05L365.5 295.05M45.5 290.43L51 290.43M371 290.43L365.5 290.43M45.5 286.53L51 286.53M371 286.53L365.5 286.53M45.5 283.14L51 283.14M371 283.14L365.5 283.14M45.5 280.16L51 280.16M371 280.16L365.5 280.16M45.5 277.49L56.5 277.49M371 277.49L360 277.49M45.5 259.93L51 259.93M371 259.93L365.5 259.93M45.5 249.66L51 249.66M371 249.66L365.5 249.66M45.5 242.37L51 242.37M371 242.37L365.5 242.37M45.5 236.72L51 236.72M371 236.72L365.5 236.72M45.5 232.1L51 232.1M371 232.1L365.5 232.1M45.5 228.2L51 228.2M371 228.2L365.5 228.2M45.5 224.81L51 224.81M371 224.81L365.5 224.81M45.5 221.83L51 221.83M371 221.83L365.5 221.83M45.5 219.16L56.5 219.16M371 219.16L360 219.16M45.5 201.6L51 201.6M371 201.6L365.5 201.6M45.5 191.33L51 191.33M371 191.33L365.5 191.33M45.5 184.04L51 184.04M371 184.04L365.5 184.04M45.5 178.39L51 178.39M371 178.39L365.5 178.39M45.5 173.77L51 173.77M371 173.77L365.5 173.77M45.5 169.87L51 169.87M371 169.87L365.5 169.87M45.5 166.48L51 166.48M371 166.48L365.5 166.48M45.5 163.5L51 163.5M371 163.5L365.5 163.5M45.5 160.83L56.5 160.83M371 160.83L360 160.83M45.5 143.27L51 143.27M371 143.27L365.5 143.27M45.5 133L51 133M371 133L365.5 133M45.5 125.71L51 125.71M371 125.71L365.5 125.71M45.5 120.06L51 120.06M371 120.06L365.5 120.06M45.5 115.44L51 115.44M371 115.44L365.5 115.44M45.5 111.54L51 111.54M371 111.54L365.5 111.54M45.5 108.15L51 108.15M371 108.15L365.5 108.15M45.5 105.17L51 105.17M371 105.17L365.5 105.17M45.5 102.5L56.5 102.5M371 102.5L360 102.5M45.5 84.94L51 84.94M371 84.94L365.5 84.94M45.5 74.67L51 74.67M371 74.67L365.5 74.67M45.5 67.38L51 67.38M371 67.38L365.5 67.38M45.5 61.73L51 61.73M371 61.73L365.5 61.73M45.5 57.11L51 57.11M371 57.11L365.5 57.11M45.5 53.21L51 53.21M371 53.21L365.5 53.21M45.5 49.82L51 49.82M371 49.82L365.5 49.82M45.5 46.84L51 46.84M371 46.84L365.5 46.84M45.5 44.17L56.5 44.17M371 44.17L360 44.17M45.5 26.61L51 26.61M371 26.61L365.5 26.61M45.5 458.2L52.8 458.2M371 458.2L363.7 458.2M45.5 442.26L50.8 442.26M371 442.26L365.7 442.26M45.5 428.78L50.8 428.78M371 428.78L365.7 428.78M45.5 417.11L50.8 417.11M371 417.11L365.7 417.11M45.5 406.81L50.8 406.81M371 406.81L365.7 406.81M45.5 397.6L52.8 397.6M371 397.6L363.7 397.6M45.5 389.27L50.8 389.27M371 389.27L365.7 389.27M45.5 381.66L50.8 381.66M371 381.66L365.7 381.66M45.5 374.66L50.8 374.66M371 374.66L365.7 374.66M45.5 368.18L50.8 368.18M371 368.18L365.7 368.18M45.5 362.15L52.8 362.15M371 362.15L363.7 362.15M45.5 356.51L50.8 356.51M371 356.51L365.7 356.51M45.5 351.21L50.8 351.21M371 351.21L365.7 351.21M45.5 346.21L50.8 346.21M371 346.21L365.7 346.21M45.5 341.49L50.8 341.49M371 341.49L365.7 341.49M45.5 337L52.8 337M371 337L363.7 337M45.5 332.74L50.8 332.74M371 332.74L365.7 332.74M45.5 328.67L50.8 328.67M371 328.67L365.7 328.67M45.5 324.78L50.8 324.78M371 324.78L365.7 324.78M45.5 321.06L50.8 321.06M371 321.06L365.7 321.06" stroke="#000" stroke-width="1" fill="none"/>
<rect x="45.5" y="17.3" width="325.5" height="300.09999999999997" fill="none" stroke="#000" stroke-width="1.3"/>
<rect x="45.5" y="317.4" width="325.5" height="160.40000000000003" fill="none" stroke="#000" stroke-width="1.3"/>
<rect x="73.6" y="208.3" width="5.2" height="5.2" fill="#000"/>
<text x="94.3" y="214" font-size="9.35">ATLAS</text>
<line x1="64.0" y1="223.9" x2="88.5" y2="223.9" stroke="#c0703a" stroke-width="1.2" stroke-dasharray="3,2"/>
<circle cx="76.2" cy="223.9" r="3.1" fill="none" stroke="#c0703a" stroke-width="1.1"/>
<text x="94.1" y="227.1" font-size="9.35">Herwig++ 2.7.1 default</text>
<line x1="64.0" y1="236.9" x2="88.5" y2="236.9" stroke="#4aa52e" stroke-width="1.2" stroke-dasharray="3,2"/>
<rect x="73.4" y="234.1" width="5.6" height="5.6" fill="none" stroke="#4aa52e" stroke-width="1.1"/>
<text x="94.1" y="240.1" font-size="9.35">Herwig 7.2.1 default</text>
<line x1="64.0" y1="250.0" x2="88.5" y2="250.0" stroke="#0000e6" stroke-width="1.2"/>
<polygon points="76.2,246.9 79.1,252.6 73.3,252.6" fill="#0000e6"/>
<text x="94.1" y="253.2" font-size="9.35">Pythia 8.315 default</text>
<line x1="64.0" y1="263.0" x2="88.5" y2="263.0" stroke="#1aa0c8" stroke-width="1.2" stroke-dasharray="4,2,1,2"/>
<polygon points="76.2,266.1 79.1,260.4 73.3,260.4" fill="#1aa0c8"/>
<text x="94.1" y="266.2" font-size="9.35">Pythia 8.315 vincia-default</text>
<line x1="64.0" y1="276.0" x2="88.5" y2="276.0" stroke="#ff0000" stroke-width="1.2" stroke-dasharray="1,1.5"/>
<polygon points="76.2,272.6 78.55,276 76.2,279.4 73.85,276" fill="#ff0000"/>
<text x="94.1" y="279.2" font-size="9.35">Sherpa 2.2.9 default</text>
<text x="51.5" y="14.8" font-size="12.1">13000 GeV pp</text>
<text x="365.5" y="14" font-size="12.1" text-anchor="end">Z+Jet</text>
<text x="80" y="42.1" font-size="12">Transmax region, 60 &lt; p<tspan font-size="7.8" dx="-1.9" dy="6.5">T</tspan><tspan font-size="7.8" dx="-4.77" dy="-11.5">Z</tspan><tspan dy="5" dx="0.6" font-size="11.95"> &lt; 80 [GeV], high thrust</tspan></text>
<text transform="translate(380.6,127.4) rotate(-90)" font-size="9.6" letter-spacing="-0.04" style="fill:#777">Rivet 4.1.0, &#8805; 3.7M events</text>
<text transform="translate(381.1,314) rotate(-90)" font-size="9.6" letter-spacing="-0.25" style="fill:#777">mcplots.cern.ch [arXiv:</text>
<text transform="translate(381.1,222.9) rotate(-90)" font-size="9.6" letter-spacing="0.15" style="fill:#777">2401.10621]</text>
<text x="162.9" y="302.1" font-size="7.95" style="fill:#999">(ATLAS_2019_I1736531)</text>
<text x="40" y="49" font-size="11" text-anchor="end">10</text>
<text x="40" y="106.5" font-size="11" text-anchor="end">1</text>
<text x="21.3" y="165.8" font-size="10.5">10</text>
<text x="32.95" y="161.1" font-size="7" letter-spacing="-0.4">&#8722;1</text>
<text x="21.3" y="224.1" font-size="10.5">10</text>
<text x="32.95" y="219.4" font-size="7" letter-spacing="-0.4">&#8722;2</text>
<text x="21.3" y="282.6" font-size="10.5">10</text>
<text x="32.95" y="277.9" font-size="7" letter-spacing="-0.4">&#8722;3</text>
<text x="38.6" y="341" font-size="11" text-anchor="end">2</text>
<text x="38.6" y="401.6" font-size="11" text-anchor="end">1</text>
<text x="38.6" y="462.2" font-size="11" text-anchor="end">0.5</text>
<text x="373.8" y="341" font-size="11">2</text>
<text x="373.8" y="402.9" font-size="11">1</text>
<text x="373.8" y="462.2" font-size="11">0.5</text>
<text x="120.62" y="489" font-size="11" text-anchor="middle">1</text>
<text x="245.82" y="489" font-size="11" text-anchor="middle">2</text>
<text x="371.02" y="489" font-size="11" text-anchor="middle">3</text>
<text x="289.4" y="500.7" font-size="12">Mean</text>
<text x="323.7" y="500.7" font-size="12">p</text>
<text x="330.2" y="507.7" font-size="8.4">T</text>
<text x="334.7" y="500.7" font-size="12">/d&#951; d&#981;</text>
<text transform="translate(14.9,166.8) rotate(-90)" font-size="12">1/N</text>
<text transform="translate(18,148.6) rotate(-90)" font-size="7.8">ev</text>
<text transform="translate(14.9,136.9) rotate(-90)" font-size="12">dN</text>
<text transform="translate(18.2,121.1) rotate(-90)" font-size="7.8">ev</text>
<text transform="translate(14.9,114.5) rotate(-90)" font-size="12">/d</text>
<text transform="translate(14.9,100) rotate(-90)" font-size="12">mean</text>
<text transform="translate(14.9,66.1) rotate(-90)" font-size="12">p</text>
<text transform="translate(21.2,60.5) rotate(-90)" font-size="8.4">T</text>
<text transform="translate(14.9,52.85) rotate(-90)" font-size="12" letter-spacing="0.5">[GeV]</text>
<text transform="translate(8.85,21.1) rotate(-90)" font-size="8">1</text>
<text transform="translate(19.3,426) rotate(-90)" font-size="8.8">Ratio to ATLAS</text>
</svg></body></html>
